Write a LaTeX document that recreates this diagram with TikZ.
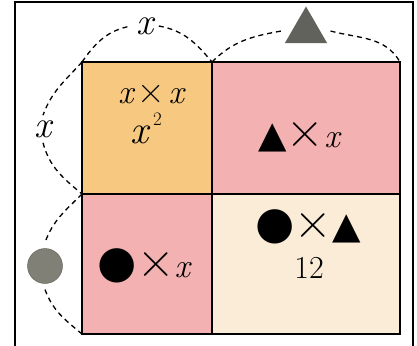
\documentclass[tikz,border=0pt]{standalone}
\usepackage{fontspec}
\newfontfamily\symfont{DejaVu Sans}
\usetikzlibrary{shapes.geometric}
\definecolor{cellorange}{RGB}{247,201,128}
\definecolor{cellpink}{RGB}{244,177,177}
\definecolor{cellcream}{RGB}{250,236,215}
\definecolor{markgray}{RGB}{98,98,92}
\definecolor{dotgray}{RGB}{128,128,118}
\tikzset{
  gridline/.style={line width=2.6pt, black},
  sidearc/.style={dash pattern=on 5pt off 4pt, line width=1.3pt},
  celltext/.style={font=\fontsize{34}{36}\selectfont, inner sep=0pt, anchor=base},
  sidelabel/.style={font=\fontsize{38}{40}\selectfont\itshape, inner sep=5pt},
}
\newcommand{\symdot}{{\symfont\fontsize{45}{45}\selectfont ●}}
\newcommand{\symtri}{{\symfont\fontsize{37}{37}\selectfont ▲}}
\newcommand{\symtimes}{{\fontsize{52}{52}\selectfont ×}}
\newcommand{\symx}{{\itshape x}}
\begin{document}
\begin{tikzpicture}[x=1pt, y=-1pt]
  \useasboundingbox (0,0) rectangle (417,345);
  % frame
  \draw[line width=1.8pt] (15,2) rectangle (413,347);
  % corners of the square
  \coordinate (A) at (82,62);
  \coordinate (B) at (212,62);
  \coordinate (C) at (400,62);
  \coordinate (D) at (82,194);
  \coordinate (E) at (82,334);
  \coordinate (G) at (400,334);
  % cells
  \fill[cellorange] (82,62) rectangle (212,194);
  \fill[cellpink] (212,62) rectangle (400,194);
  \fill[cellpink] (82,194) rectangle (212,334);
  \fill[cellcream] (212,194) rectangle (400,334);
  \draw[gridline] (A) rectangle (G);
  \draw[gridline] (B) -- (212,334);
  \draw[gridline] (D) -- (400,194);
  % texts in the cells
  \node[celltext] (xx) at (151,103) {\symx\hspace{4pt}{\fontsize{38}{38}\selectfont ×}\hspace{4pt}\symx};
  \node[celltext, font=\fontsize{40}{40}\selectfont] (xsq) at (146,143) {\symx\hspace{5pt}\raisebox{18pt}{\fontsize{19}{19}\selectfont 2}};
  \node[celltext] (trix) at (299,147) {\symtri\symtimes\symx};
  \node[celltext] (dotx) at (144,277) {\symdot\symtimes\symx};
  \node[celltext] (dottri) at (308,238) {\symdot\symtimes\symtri};
  \node[celltext, font=\fontsize{32}{34}\selectfont] (twelve) at (309,278) {12};
  % side marks
  \node[sidelabel] (xtop) at (145,26) {x};
  \node[sidelabel] (xleft) at (43,129) {x};
  \node[regular polygon, regular polygon sides=3, fill=markgray, minimum size=49pt, inner sep=0pt, outer sep=9pt] (tri) at (306,31) {};
  \node[circle, fill=dotgray, draw=dotgray!70!black, minimum size=35pt, inner sep=0pt, outer sep=6pt] (dot) at (45,266) {};
  % dashed arcs
  \draw[sidearc] (A) to[out=55,in=190] (xtop.west);
  \draw[sidearc] (xtop.east) to[out=-10,in=130] (B);
  \draw[sidearc] (B) to[out=45,in=190] (tri.west);
  \draw[sidearc] (tri.east) to[out=-15,in=120] (C);
  \draw[sidearc] (A) to[out=228,in=70] (xleft.north);
  \draw[sidearc] (xleft.south) to[out=-75,in=140] (D);
  \draw[sidearc] (D) to[out=225,in=70] (dot.north);
  \draw[sidearc] (dot.south) to[out=-70,in=140] (E);
\end{tikzpicture}
\end{document}
